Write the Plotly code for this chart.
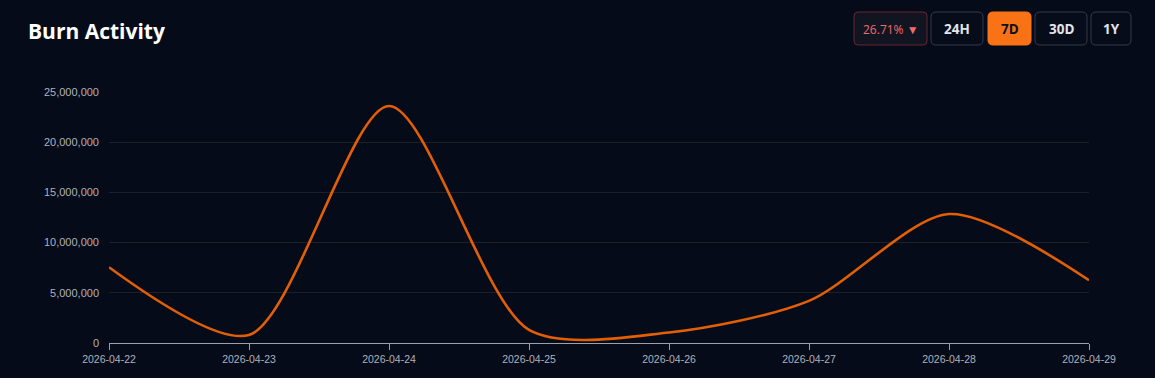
import plotly.graph_objects as go

dates = ["2026-04-22", "2026-04-23", "2026-04-24", "2026-04-25",
         "2026-04-26", "2026-04-27", "2026-04-28", "2026-04-29"]
burned = [7550000, 800000, 23600000, 1300000, 1050000, 4200000, 12850000, 6250000]

buttons = ["24H", "7D", "30D", "1Y"]
active_button = "7D"
change_label = "26.71% ▼"

W, H = 1155, 378
L, R, T, B = 109, 66, 92, 35
PW, PH = W - L - R, H - T - B

def px(x):
    return (x - L) / PW

def py(y):
    return (H - B - y) / PH

def rounded(x0, y0, x1, y1, r):
    rx, ry = r / PW, r / PH
    a, b, c, d = px(x0), py(y1), px(x1), py(y0)
    return (f"M{a+rx},{b} L{c-rx},{b} Q{c},{b} {c},{b+ry} L{c},{d-ry} Q{c},{d} {c-rx},{d} "
            f"L{a+rx},{d} Q{a},{d} {a},{d-ry} L{a},{b+ry} Q{a},{b} {a+rx},{b} Z")

fig = go.Figure()
fig.add_trace(go.Scatter(
    x=dates, y=burned, mode="lines",
    line=dict(color="#e35f05", width=2.6, shape="spline", smoothing=0.8),
    hoverinfo="x+y", showlegend=False))

shapes = []
annotations = []

annotations.append(dict(xref="paper", yref="paper", x=px(26), y=py(31), xanchor="left",
                        yanchor="middle", text="<b>Burn Activity</b>", showarrow=False,
                        font=dict(family="Open Sans", size=21, color="#ffffff")))

# change pill
shapes.append(dict(type="path", xref="paper", yref="paper", path=rounded(854, 12, 927, 45, 4),
                   fillcolor="#111522", line=dict(color="#6b2430", width=1), layer="above"))
annotations.append(dict(xref="paper", yref="paper", x=px(890.5), y=py(29), xanchor="center",
                        yanchor="middle", text=change_label, showarrow=False,
                        font=dict(family="Open Sans", size=12, color="#f26b6b")))

boxes = [(931, 983), (988, 1031), (1035, 1087), (1091, 1131)]
for label, (x0, x1) in zip(buttons, boxes):
    active = label == active_button
    shapes.append(dict(type="path", xref="paper", yref="paper", path=rounded(x0, 12, x1, 45, 5),
                       fillcolor="#f97316" if active else "#070c1a",
                       line=dict(color="#f97316" if active else "#343a48", width=1), layer="above"))
    annotations.append(dict(xref="paper", yref="paper", x=px((x0 + x1) / 2), y=py(29),
                            xanchor="center", yanchor="middle", text=f"<b>{label}</b>",
                            showarrow=False,
                            font=dict(family="Open Sans", size=13.5,
                                      color="#0b0f1a" if active else "#e2e4ea")))

fig.update_layout(
    width=W, height=H,
    margin=dict(l=L, r=R, t=T, b=B),
    paper_bgcolor="#060b1a", plot_bgcolor="#060b1a",
    shapes=shapes, annotations=annotations,
    xaxis=dict(type="date", range=[dates[0], dates[-1]], tickformat="%Y-%m-%d",
               dtick=86400000, tick0=dates[0], showgrid=False, showline=True,
               linecolor="#9ca0a8", linewidth=1, ticks="outside", ticklen=6,
               tickcolor="#9ca0a8", tickfont=dict(family="Liberation Sans", size=10.5, color="#aeb2bb"),
               zeroline=False, fixedrange=True),
    yaxis=dict(range=[0, 25000000], tickvals=[0, 5000000, 10000000, 15000000, 20000000, 25000000],
               tickformat=",d", showgrid=True, gridcolor="#1e2028", gridwidth=1,
               zeroline=False, showline=False, ticks="", ticklabelstandoff=9,
               tickfont=dict(family="Liberation Sans", size=11, color="#aeb2bb"),
               fixedrange=True),
)

fig.write_html("out.html", config={"displayModeBar": False},
               post_script="document.body.style.margin='0';document.body.style.background='#060b1a';document.body.style.overflow='hidden';")
